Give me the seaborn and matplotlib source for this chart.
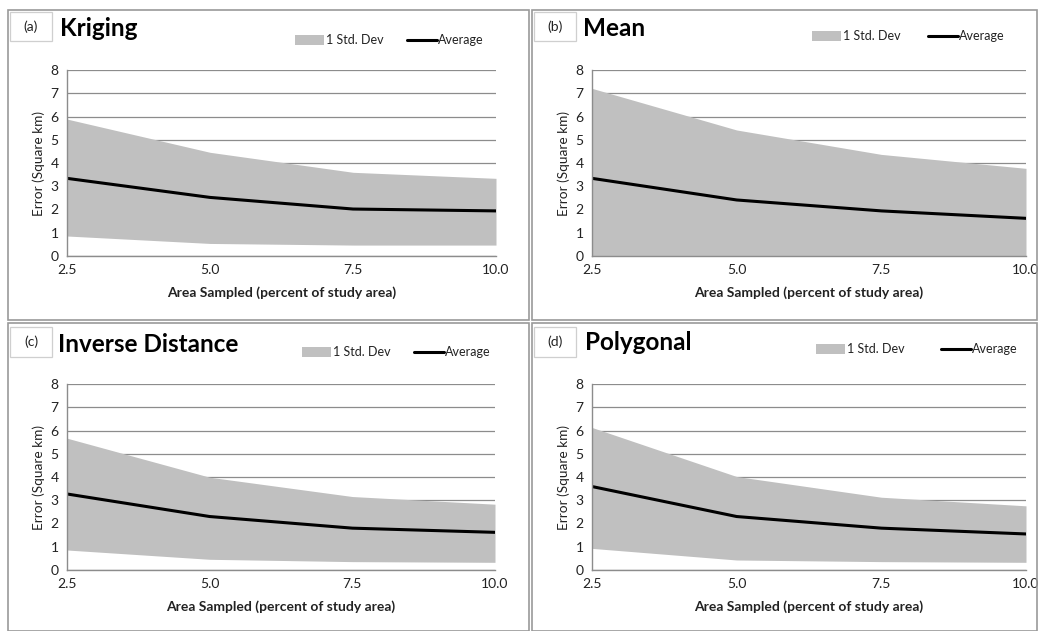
import matplotlib
matplotlib.use("Agg")
import matplotlib.pyplot as plt
import seaborn as sns
import pandas as pd
from matplotlib.patches import Rectangle
from matplotlib.lines import Line2D

sns.set_style("white")
plt.rcParams['font.family'] = ['Lato', 'DejaVu Sans']

area = [2.5, 5.0, 7.5, 10.0]
tick_labels = ["2.5", "5.0", "7.5", "10.0"]

kriging_avg = [3.34, 2.52, 2.02, 1.94]
kriging_hi = [5.89, 4.46, 3.60, 3.34]
kriging_lo = [0.86, 0.54, 0.47, 0.47]

mean_avg = [3.34, 2.41, 1.94, 1.62]
mean_hi = [7.21, 5.42, 4.37, 3.77]
mean_lo = [0.0, 0.0, 0.0, 0.0]

invdist_avg = [3.27, 2.30, 1.80, 1.62]
invdist_hi = [5.67, 3.99, 3.16, 2.83]
invdist_lo = [0.86, 0.46, 0.36, 0.33]

poly_avg = [3.59, 2.30, 1.80, 1.55]
poly_hi = [6.13, 4.02, 3.13, 2.76]
poly_lo = [0.93, 0.43, 0.36, 0.33]

panels = [
    ("(a)", "Kriging", kriging_avg, kriging_hi, kriging_lo),
    ("(b)", "Mean", mean_avg, mean_hi, mean_lo),
    ("(c)", "Inverse Distance", invdist_avg, invdist_hi, invdist_lo),
    ("(d)", "Polygonal", poly_avg, poly_hi, poly_lo),
]

W, H = 1040, 631
fig = plt.figure(figsize=(W / 100, H / 100), dpi=100)
fig.patch.set_facecolor("white")

def fx(x):
    return x / W

def fy(y):
    return 1 - y / H

layout = [
    dict(ax=(67, 496, 70, 256), box=(8, 529, 10, 320), lab=(10, 52, 12, 41), title=(60, 28),
         leg=(295, 40, 407)),
    dict(ax=(592, 1026, 70, 256), box=(532, 1037, 10, 320), lab=(534, 576, 12, 41), title=(583, 28),
         leg=(812, 36, 928)),
    dict(ax=(67, 495, 384, 570), box=(8, 529, 323, 631), lab=(10, 52, 327, 357), title=(58, 344),
         leg=(302, 352, 414)),
    dict(ax=(592, 1026, 384, 570), box=(532, 1037, 323, 631), lab=(534, 576, 327, 357), title=(585, 343),
         leg=(816, 349, 941)),
]

fill_color = "#c0c0c0"
grid_color = "#8c8c8c"

for (lab, title, avg, hi, lo), L in zip(panels, layout):
    bx0, bx1, by0, by1 = L["box"]
    fig.patches.append(Rectangle((fx(bx0), fy(by1)), fx(bx1 - bx0), (by1 - by0) / H,
                                 transform=fig.transFigure, fill=False,
                                 edgecolor="#9a9a9a", lw=1.2, zorder=0))
    lx0, lx1, ly0, ly1 = L["lab"]
    fig.patches.append(Rectangle((fx(lx0), fy(ly1)), fx(lx1 - lx0), (ly1 - ly0) / H,
                                 transform=fig.transFigure, fill=False,
                                 edgecolor="#cfcfcf", lw=0.9, zorder=1))
    fig.text(fx((lx0 + lx1) / 2), fy((ly0 + ly1) / 2), lab, ha="center", va="center",
             fontsize=10, color="#222222")
    tx, ty = L["title"]
    fig.text(fx(tx), fy(ty), title, ha="left", va="center", fontsize=17.5,
             fontweight="bold", color="black")

    x0, x1, y0, y1 = L["ax"]
    ax = fig.add_axes([fx(x0), fy(y1), fx(x1 - x0), (y1 - y0) / H])
    df = pd.DataFrame({"area": area, "avg": avg, "hi": hi, "lo": lo})
    ax.fill_between(df["area"], df["lo"], df["hi"], color=fill_color, lw=0, zorder=2)
    sns.lineplot(data=df, x="area", y="avg", ax=ax, color="black", lw=2.2, zorder=3)
    ax.set_xlim(2.5, 10.0)
    ax.set_ylim(0, 8)
    ax.set_yticks(range(0, 9))
    ax.set_xticks(area)
    ax.set_xticklabels(tick_labels)
    if lab == "(b)":
        ax.set_xticks([3.75, 6.25, 8.75], minor=True)
    ax.yaxis.grid(True, color=grid_color, lw=0.9, zorder=1)
    ax.set_axisbelow(True)
    for s in ["top", "right"]:
        ax.spines[s].set_visible(False)
    for s in ["left", "bottom"]:
        ax.spines[s].set_color("#8c8c8c")
        ax.spines[s].set_linewidth(1.0)
        ax.spines[s].set_zorder(4)
    ax.tick_params(axis="both", which="both", direction="out", length=4, width=1.0,
                   color="#8c8c8c", labelsize=10, labelcolor="#222222", pad=2)
    ax.set_xlabel("Area Sampled (percent of study area)", fontsize=10, fontweight="bold",
                  color="#222222", labelpad=7)
    ax.set_ylabel("Error (Square km)", fontsize=9.8, color="#222222", labelpad=4)

    px, py, lnx = L["leg"]
    fig.patches.append(Rectangle((fx(px), fy(py + 5)), fx(29), 10 / H, transform=fig.transFigure,
                                 facecolor=fill_color, edgecolor="none"))
    fig.text(fx(px + 31), fy(py), "1 Std. Dev", ha="left", va="center", fontsize=9,
             color="#222222")
    fig.lines.append(Line2D([fx(lnx), fx(lnx + 30)], [fy(py), fy(py)], transform=fig.transFigure,
                            color="black", lw=2.2))
    fig.text(fx(lnx + 31), fy(py), "Average", ha="left", va="center", fontsize=9,
             color="#222222")

fig.savefig("out.png", dpi=100, facecolor="white")
